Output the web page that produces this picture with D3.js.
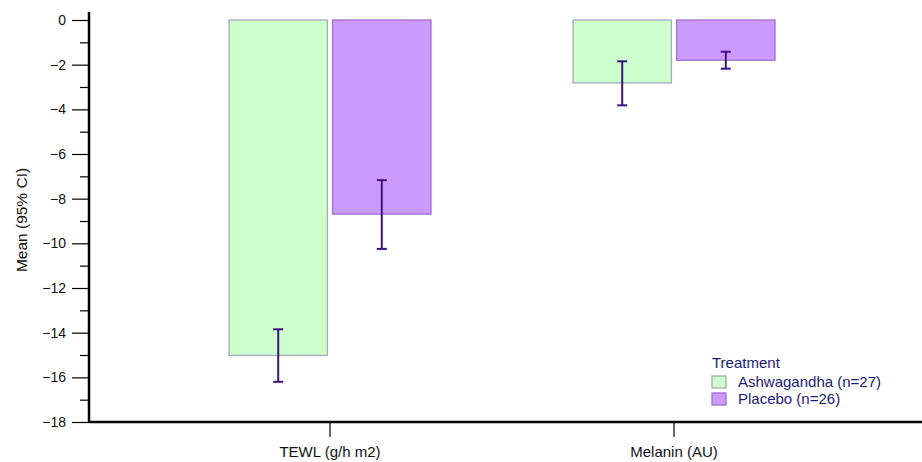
<!DOCTYPE html>
<html><head><meta charset="utf-8">
<script src="https://cdn.jsdelivr.net/npm/d3@7"></script>
<style>body{margin:0;background:#fff;}svg{display:block;font-family:"Liberation Sans",Arial,sans-serif;}</style>
</head><body>
<svg id="c" width="922" height="462"></svg>
<script>
const categories = ["TEWL (g/h m2)", "Melanin (AU)"];
const groups = ["Ashwagandha (n=27)", "Placebo (n=26)"];
const ashwaMean = [-15.02, -2.82];
const ashwaLow = [-16.2, -3.82];
const ashwaHigh = [-13.85, -1.85];
const placeboMean = [-8.69, -1.80];
const placeboLow = [-10.25, -2.18];
const placeboHigh = [-7.17, -1.42];
const yTicks = [0, -2, -4, -6, -8, -10, -12, -14, -16, -18];
const yMinorTicks = d3.range(-17, 0, 2);

const fills = ["#ccffcc", "#cc99ff"];
const strokes = ["#a8a8c0", "#9d6fcf"];
const errColor = "#3f137f";

const svg = d3.select("#c");
const y = d3.scaleLinear().domain([-18, 0]).range([422, 20]);
const x = d3.scaleBand().domain(categories).range([158, 846]);
const xs = d3.scaleBand().domain(groups).range([-101, 101]).paddingInner(0.05);

const series = [
  {mean: ashwaMean, lo: ashwaLow, hi: ashwaHigh},
  {mean: placeboMean, lo: placeboLow, hi: placeboHigh}
];

series.forEach((s, gi) => {
  const g = groups[gi];
  categories.forEach((c, ci) => {
    const cx = x(c) + x.bandwidth() / 2;
    const bx = cx + xs(g);
    svg.append("rect")
      .attr("x", bx).attr("width", xs.bandwidth())
      .attr("y", y(0)).attr("height", y(s.mean[ci]) - y(0))
      .attr("fill", fills[gi]).attr("stroke", strokes[gi]).attr("stroke-width", 1.3);
  });
});
series.forEach((s, gi) => {
  const g = groups[gi];
  categories.forEach((c, ci) => {
    const cx = x(c) + x.bandwidth() / 2;
    const ex = cx + xs(g) + xs.bandwidth() / 2;
    const eg = svg.append("g").attr("stroke", errColor).attr("stroke-width", 2);
    eg.append("line").attr("x1", ex).attr("x2", ex).attr("y1", y(s.lo[ci])).attr("y2", y(s.hi[ci]));
    eg.append("line").attr("x1", ex - 5).attr("x2", ex + 5).attr("y1", y(s.lo[ci])).attr("y2", y(s.lo[ci]));
    eg.append("line").attr("x1", ex - 5).attr("x2", ex + 5).attr("y1", y(s.hi[ci])).attr("y2", y(s.hi[ci]));
  });
});

// Y axis
const yAxisX = 89;
const ya = svg.append("g").attr("transform", `translate(${yAxisX},0)`)
  .call(d3.axisLeft(y).tickValues(yTicks).tickSize(17).tickPadding(6).tickFormat(d3.format("d")));
ya.select(".domain").remove();
ya.selectAll(".tick line").attr("stroke", "#000").attr("stroke-width", 1.2);
ya.selectAll(".tick text").attr("font-size", 14).attr("fill", "#111").attr("font-family", "Liberation Sans, Arial, sans-serif");
const ym = svg.append("g").attr("transform", `translate(${yAxisX},0)`)
  .call(d3.axisLeft(y).tickValues(yMinorTicks).tickSize(9).tickFormat(""));
ym.select(".domain").remove();
ym.selectAll(".tick line").attr("stroke", "#000").attr("stroke-width", 1.2);
svg.append("line").attr("x1", yAxisX).attr("x2", yAxisX).attr("y1", 12).attr("y2", y(-18)).attr("stroke", "#000").attr("stroke-width", 2.5);

// X axis
const xa = svg.append("g").attr("transform", `translate(0,${y(-18)})`)
  .call(d3.axisBottom(x).tickSize(15).tickPadding(9));
xa.select(".domain").remove();
xa.selectAll(".tick line").attr("stroke", "#000").attr("stroke-width", 1.2);
xa.selectAll(".tick text").attr("font-size", 15).attr("fill", "#111").attr("font-family", "Liberation Sans, Arial, sans-serif");
svg.append("line").attr("x1", yAxisX).attr("x2", 922).attr("y1", y(-18)).attr("y2", y(-18)).attr("stroke", "#000").attr("stroke-width", 2.5);

// Y label
svg.append("text").attr("transform", "translate(27,220) rotate(-90)")
  .attr("text-anchor", "middle").attr("font-size", 15.5).attr("fill", "#111").text("Mean (95% CI)");

// Legend
const lg = svg.append("g").attr("transform", "translate(712,368)");
lg.append("text").attr("x", 0).attr("y", 0).attr("font-size", 15).attr("fill", "#1a1a7a").text("Treatment");
groups.forEach((g, i) => {
  const ly = 19 + i * 17;
  lg.append("rect").attr("x", 0).attr("y", ly - 11).attr("width", 14).attr("height", 12)
    .attr("fill", fills[i]).attr("stroke", strokes[i]).attr("stroke-width", 1.3);
  lg.append("text").attr("x", 26).attr("y", ly).attr("font-size", 15).attr("fill", "#1a1a7a").text(g);
});
</script>
</body></html>
